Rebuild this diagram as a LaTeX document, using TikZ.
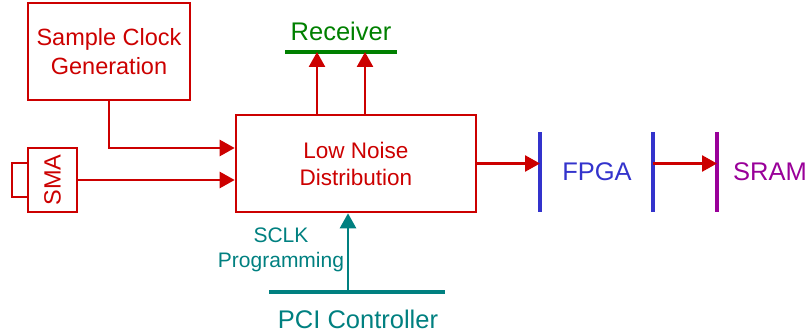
\documentclass[tikz,border=0pt]{standalone}
\usepackage{fontspec}
\setmainfont{Liberation Sans}
\usetikzlibrary{arrows.meta}

\definecolor{sigred}{RGB}{204,0,0}
\definecolor{rcvgreen}{RGB}{0,128,0}
\definecolor{fpgablue}{RGB}{51,51,204}
\definecolor{srampurple}{RGB}{153,0,153}
\definecolor{pciteal}{RGB}{0,128,128}

\tikzset{
  blk/.style={draw=sigred,line width=2.6pt,text=sigred,align=center,inner sep=0pt},
  tip/.style={-{Triangle[length=15pt,width=16pt]}},
  sig/.style={sigred,line width=2.6pt,tip},
  bus/.style={line width=3.8pt},
  big/.style={font=\fontsize{25.5}{29}\selectfont}
}

\begin{document}
\begin{tikzpicture}[x=1pt,y=-1pt]
\useasboundingbox (0,0) rectangle (810,334);
% blocks
\node[blk,minimum width=162pt,minimum height=97pt,font=\fontsize{23.5}{29}\selectfont] (sample) at (109,51.5) {Sample Clock\\Generation};
\node[blk,minimum width=240pt,minimum height=97pt,font=\fontsize{22.5}{27}\selectfont] (lnd) at (356,163.5) {Low Noise\\Distribution};
\node[blk,minimum width=64pt,minimum height=49pt,font=\fontsize{23.5}{27}\selectfont,rotate=90] (sma) at (52.5,180) {SMA};
\node[blk,minimum width=16pt,minimum height=34pt] (plug) at (20,180) {};
% receiver bus
\coordinate (rcvL) at (285,52);
\coordinate (rcvR) at (397,52);
\coordinate (rcvA) at (317,52);
\coordinate (rcvB) at (365,52);
\draw[bus,rcvgreen] (rcvL) -- (rcvR);
\node[big,text=rcvgreen] (rcv) at (341,31) {Receiver};
% fpga and sram bars
\coordinate (fpgaT) at (540,132);
\coordinate (fpgaB) at (540,212);
\coordinate (fpgaT2) at (653,132);
\coordinate (fpgaB2) at (653,212);
\coordinate (sramT) at (717,132);
\coordinate (sramB) at (717,212);
\draw[bus,fpgablue] (fpgaT) -- (fpgaB);
\draw[bus,fpgablue] (fpgaT2) -- (fpgaB2);
\draw[bus,srampurple] (sramT) -- (sramB);
\node[big,text=fpgablue] (fpga) at (597,172) {FPGA};
\node[big,text=srampurple] (sram) at (770,172) {SRAM};
% pci bus
\coordinate (pciL) at (269,292);
\coordinate (pciR) at (445,292);
\coordinate (pciA) at (348,292);
\draw[bus,pciteal] (pciL) -- (pciR);
\node[big,text=pciteal] (pci) at (358,319) {PCI Controller};
\node[text=pciteal,align=center,font=\fontsize{21}{25}\selectfont] (sclk) at (281,250) {SCLK\\Programming};
% signals
\draw[sig] (sample.south) |- ([yshift=15.5pt]lnd.west);
\draw[sig] (sma.south) -- (sma.south -| lnd.west);
\draw[sig] (lnd.north -| rcvA) -- (rcvA);
\draw[sig] (lnd.north -| rcvB) -- (rcvB);
\draw[sig] (lnd.east) -- (lnd.east -| fpgaT);
\draw[sig] (lnd.east -| fpgaT2) -- (lnd.east -| sramT);
\draw[pciteal,line width=2.6pt,tip] (pciA) -- (lnd.south -| pciA);
\end{tikzpicture}
\end{document}
